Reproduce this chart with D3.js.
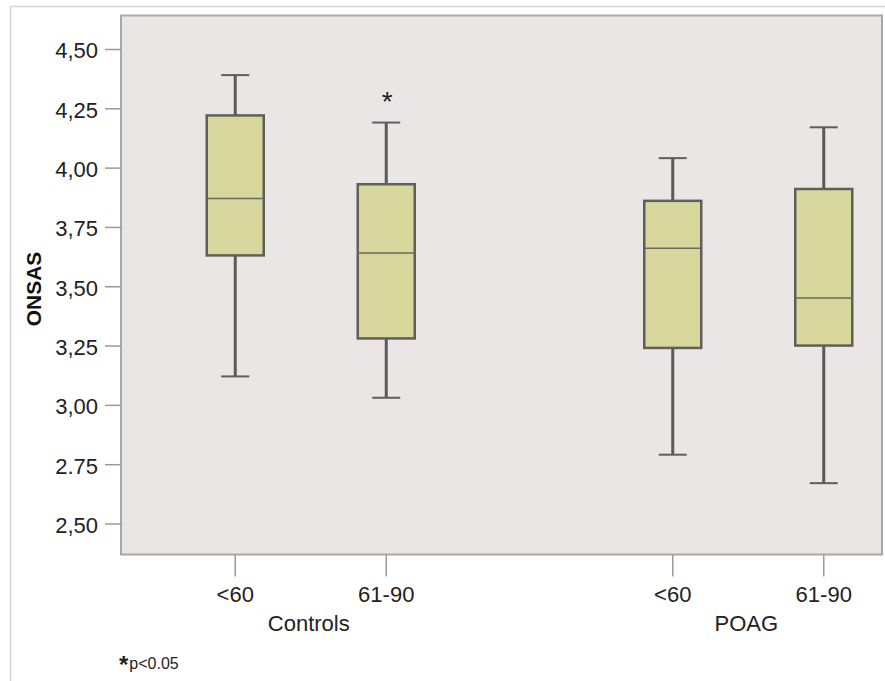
<!DOCTYPE html>
<html>
<head>
<meta charset="utf-8">
<script src="https://cdn.jsdelivr.net/npm/d3@7"></script>
<style>
  body { margin: 0; background: #fff; }
  svg { display: block; font-family: "Liberation Sans", Arial, sans-serif; }
</style>
</head>
<body>
<div id="chart"></div>
<script>
const groups = ["Controls", "POAG"];
const ages = ["<60", "61-90"];
// five-number summaries
const boxes = [
  { group: "Controls", age: "<60",   low: 3.12, q1: 3.63, median: 3.87, q3: 4.22, high: 4.39 },
  { group: "Controls", age: "61-90", low: 3.03, q1: 3.28, median: 3.64, q3: 3.93, high: 4.19 },
  { group: "POAG",     age: "<60",   low: 2.79, q1: 3.24, median: 3.66, q3: 3.86, high: 4.04 },
  { group: "POAG",     age: "61-90", low: 2.67, q1: 3.25, median: 3.45, q3: 3.91, high: 4.17 }
];
const markers = [{ group: "Controls", age: "61-90", value: 4.31, text: "*" }];
const tickValues = [2.5, 2.75, 3.0, 3.25, 3.5, 3.75, 4.0, 4.25, 4.5];
const tickLabels = ["2,50", "2.75", "3,00", "3,25", "3,50", "3,75", "4,00", "4,25", "4,50"];

const width = 885;
const height = 681;
const plot = { left: 121, top: 15.5, right: 882, bottom: 554.5 };
const font = '"Liberation Sans", Arial, sans-serif';

const svg = d3
  .select("#chart")
  .append("svg")
  .attr("width", width)
  .attr("height", height);

// outer frame
svg.append("path")
  .attr("d", `M10.5,${height} V6.5 H${width}`)
  .attr("fill", "none")
  .attr("stroke", "#d4d4d4")
  .attr("stroke-width", 1.5);

const y = d3.scaleLinear().domain([2.5, 4.5]).range([523.5, 49]);

const xGroup = d3.scaleBand().domain(groups).range([92, 967]);
const xAge = d3.scalePoint().domain(ages).range([-75.5, 75.5]);
const xPos = (d) => xGroup(d.group) + xGroup.bandwidth() / 2 + xAge(d.age);

const boxWidth = 57;
const capWidth = 28;

svg.append("rect")
  .attr("x", plot.left)
  .attr("y", plot.top)
  .attr("width", plot.right - plot.left)
  .attr("height", plot.bottom - plot.top)
  .attr("fill", "#ebe6e6")
  .attr("stroke", "#a8a8a8")
  .attr("stroke-width", 2);

// y axis
const yAxis = svg.append("g")
  .attr("transform", `translate(${plot.left},0)`)
  .call(d3.axisLeft(y).tickValues(tickValues).tickSize(16).tickPadding(7)
    .tickFormat((d, i) => tickLabels[i]));
yAxis.attr("font-family", font).attr("font-size", 22);
yAxis.select(".domain").remove();
yAxis.selectAll("line").attr("stroke", "#9a9a9a").attr("stroke-width", 1.5);
yAxis.selectAll("text")
  .attr("fill", "#222")
  .attr("dy", "0.4em");

// x axis ticks and labels
const xTicks = svg.append("g").selectAll("g").data(boxes).enter().append("g")
  .attr("transform", (d) => `translate(${xPos(d)},${plot.bottom})`);
xTicks.append("line")
  .attr("y1", 0).attr("y2", 22)
  .attr("stroke", "#9a9a9a").attr("stroke-width", 1.5);
xTicks.append("text")
  .attr("y", 47)
  .attr("text-anchor", "middle")
  .attr("fill", "#222")
  .style("font-size", "22px")
  .text((d) => d.age);

svg.append("g").selectAll("text").data(groups).enter().append("text")
  .attr("x", (d) => xGroup(d) + xGroup.bandwidth() / 2 - 2)
  .attr("y", 631)
  .attr("text-anchor", "middle")
  .attr("fill", "#222")
  .style("font-size", "22px")
  .text((d) => d);

// y title
svg.append("text")
  .attr("transform", `translate(41,${289}) rotate(-90)`)
  .attr("text-anchor", "middle")
  .attr("fill", "#111")
  .style("font-size", "21px")
  .style("font-weight", "bold")
  .text("ONSAS");

// boxes
const box = svg.append("g").selectAll("g").data(boxes).enter().append("g")
  .attr("transform", (d) => `translate(${xPos(d)},0)`);

box.append("line")
  .attr("y1", (d) => y(d.high)).attr("y2", (d) => y(d.q3))
  .attr("stroke", "#5a5a5a").attr("stroke-width", 3);
box.append("line")
  .attr("y1", (d) => y(d.q1)).attr("y2", (d) => y(d.low))
  .attr("stroke", "#5a5a5a").attr("stroke-width", 3);
box.selectAll(".cap")
  .data((d) => [d.high, d.low])
  .enter().append("line")
  .attr("class", "cap")
  .attr("x1", -capWidth / 2).attr("x2", capWidth / 2)
  .attr("y1", (v) => y(v)).attr("y2", (v) => y(v))
  .attr("stroke", "#5e5e5e").attr("stroke-width", 2);
box.append("rect")
  .attr("x", -boxWidth / 2)
  .attr("width", boxWidth)
  .attr("y", (d) => y(d.q3))
  .attr("height", (d) => y(d.q1) - y(d.q3))
  .attr("fill", "#d6d69d")
  .attr("stroke", "#5f5f58")
  .attr("stroke-width", 2.5);
box.append("line")
  .attr("x1", -boxWidth / 2).attr("x2", boxWidth / 2)
  .attr("y1", (d) => y(d.median)).attr("y2", (d) => y(d.median))
  .attr("stroke", "#6a6a5c").attr("stroke-width", 1.5);

// significance marker
svg.append("g").selectAll("text").data(markers).enter().append("text")
  .attr("x", (d) => xPos(d) + 1)
  .attr("y", (d) => y(d.value))
  .attr("dy", "0.6em")
  .attr("text-anchor", "middle")
  .attr("fill", "#222")
  .style("font-size", "28px")
  .text((d) => d.text);

// footnote
const note = svg.append("text").attr("x", 119).attr("y", 669).attr("fill", "#222");
note.append("tspan").attr("dy", 4).style("font-size", "24px").style("font-weight", "bold").text("*");
note.append("tspan").attr("dy", -4).attr("dx", 1).style("font-size", "16px").text("p<0.05");
</script>
</body>
</html>
